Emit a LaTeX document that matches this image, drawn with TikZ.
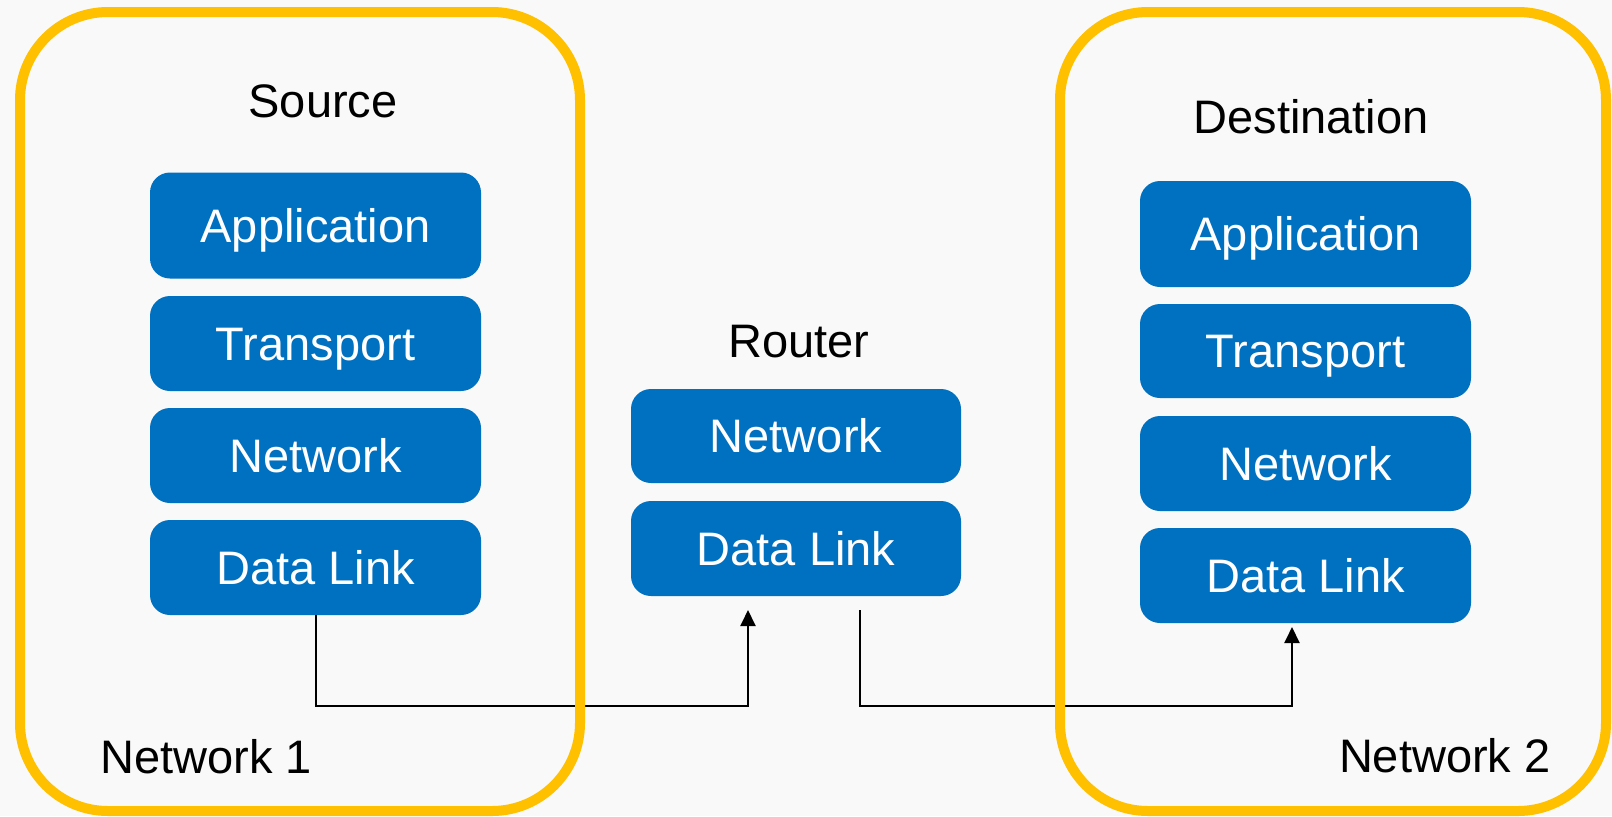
\documentclass[tikz,border=0pt]{standalone}
\usepackage{fontspec}
\setmainfont{Liberation Sans}
\usetikzlibrary{arrows.meta}
\definecolor{bg}{HTML}{F9F9F9}
\definecolor{netyellow}{HTML}{FFC000}
\definecolor{layerblue}{HTML}{0070C0}
\begin{document}
\begin{tikzpicture}[x=0.5pt,y=-0.5pt,
  layer/.style={fill=layerblue,rounded corners=10pt,minimum width=165.5pt,
    minimum height=47.5pt,inner sep=0pt,text=white,text height=16.8pt,text depth=0pt,
    font=\fontsize{23.5pt}{28pt}\selectfont},
  tall/.style={minimum height=53pt},
  label/.style={font=\fontsize{23.5pt}{28pt}\selectfont,inner sep=0pt,text=black},
  netbox/.style={draw=netyellow,line width=5pt,rounded corners=44pt},
  link/.style={draw=black,line width=1pt},
  tip/.style={-{Triangle[width=7.5pt,length=8pt]}}]
\fill[bg] (0,0) rectangle (1612,816);
\useasboundingbox (0,0) rectangle (1612,816);
% source stack
\node[layer,tall] (sApp) at (315.5,225.5) {Application};
\node[layer] (sTr) at (315.5,343.5) {Transport};
\node[layer] (sNet) at (315.5,455.5) {Network};
\node[layer] (sDL) at (315.5,567.5) {Data Link};
% router stack
\node[layer,minimum width=165pt,minimum height=47pt] (rNet) at (796,436) {Network};
\node[layer,minimum width=165pt] (rDL) at (796,548.5) {Data Link};
% destination stack
\node[layer,tall] (dApp) at (1305.5,234) {Application};
\node[layer,minimum height=47pt] (dTr) at (1305.5,351) {Transport};
\node[layer] (dNet) at (1305.5,463.5) {Network};
\node[layer] (dDL) at (1305.5,575.5) {Data Link};
% labels
\node[label,anchor=base] (src) at (323,117) {Source};
\node[label,anchor=base] (dst) at (1311,133) {Destination};
\node[label,anchor=base] (rtr) at (799,357) {Router};
\node[label,anchor=base west] (n1) at (100,773) {Network 1};
\node[label,anchor=base east] (n2) at (1551,772) {Network 2};
% connector ends and bends
\coordinate (rIn) at (748,610);
\coordinate (bendA) at (748,706);
\coordinate (rOut) at (860,610);
\coordinate (bendB) at (1292,706);
\coordinate (dIn) at (1292,627);
\draw[link,tip] (sDL.south) |- (bendA) -- (rIn);
\draw[link,tip] (rOut) |- (bendB) -- (dIn);
% network boundaries
\draw[netbox] (20,12) rectangle (580,811);
\draw[netbox] (1060,12) rectangle (1606,811);
\end{tikzpicture}
\end{document}
